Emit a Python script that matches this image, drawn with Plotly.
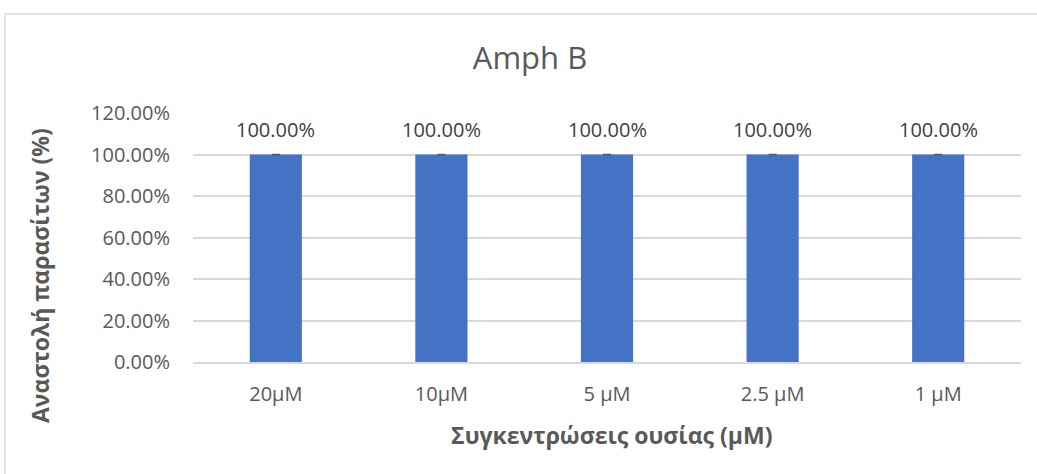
import plotly.graph_objects as go

categories = ["20μM", "10μM", "5 μM", "2.5 μM", "1 μM"]
inhibition = [1.0, 1.0, 1.0, 1.0, 1.0]
errors = [0.0, 0.0, 0.0, 0.0, 0.0]
y_ticks = [0, 0.2, 0.4, 0.6, 0.8, 1.0, 1.2]

FONT = "Open Sans, Noto Sans, sans-serif"
GREY = "#595959"

fig = go.Figure()
fig.add_trace(go.Bar(
    x=categories, y=inhibition,
    marker=dict(color="#4472C4", line=dict(width=0)),
    width=0.315,
    error_y=dict(type="data", array=errors, visible=True, color="#595959", thickness=1.5, width=4),
    cliponaxis=False,
))

for c, v in zip(categories, inhibition):
    fig.add_annotation(x=c, y=v, xref="x", yref="y", text=f"{v:.2%}", showarrow=False,
                       yanchor="middle", yshift=25,
                       font=dict(family=FONT, size=20, color="#404040"))

fig.update_layout(
    width=1037, height=474,
    margin=dict(l=193, r=16, t=113, b=112),
    paper_bgcolor="white", plot_bgcolor="white",
    showlegend=False,
    title=dict(text="Amph B", x=530 / 1037, xanchor="center", y=1 - 58 / 474, yanchor="middle",
               font=dict(family=FONT, size=31, color=GREY)),
    xaxis=dict(
        showgrid=False, showline=True, linecolor="#d9d9d9", linewidth=1.5,
        ticks="", tickfont=dict(family=FONT, size=20, color=GREY),
        ticklabelstandoff=13,
    ),
    yaxis=dict(
        range=[0, 1.2], tickvals=y_ticks, tickformat=".2%",
        showgrid=True, gridcolor="#d9d9d9", gridwidth=1.5,
        zeroline=False, showline=False, ticks="",
        tickfont=dict(family=FONT, size=20, color=GREY),
        ticklabelstandoff=22,
    ),
    bargap=0.685,
)

fig.add_annotation(xref="paper", yref="paper", x=(612 - 193) / 828, y=(362 - 435) / 249,
                   text="<b>Συγκεντρώσεις ουσίας (μΜ)</b>", showarrow=False,
                   xanchor="center", yanchor="middle",
                   font=dict(family=FONT, size=23, color=GREY))
fig.add_annotation(xref="paper", yref="paper", x=(40 - 193) / 828, y=(362 - 276) / 249,
                   text="<b>Αναστολή παρασίτων (%)</b>", showarrow=False, textangle=-90,
                   xanchor="center", yanchor="middle",
                   font=dict(family=FONT, size=23, color=GREY))

fig.add_shape(type="rect", xref="paper", yref="paper",
              x0=(5 - 193) / 828, x1=(1045 - 193) / 828,
              y0=(362 - 490) / 249, y1=(362 - 14) / 249,
              line=dict(color="#d9d9d9", width=1.5), fillcolor="rgba(0,0,0,0)", layer="below")

fig.write_html("out.html")
